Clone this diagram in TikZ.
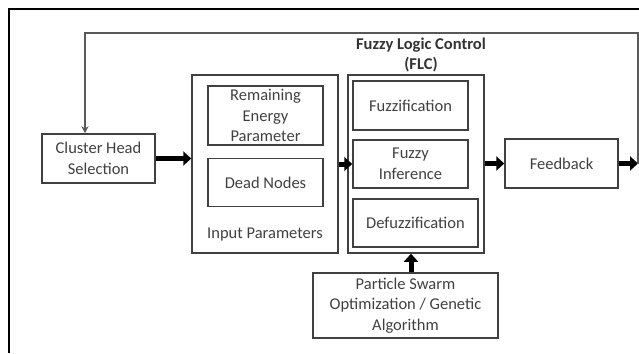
\documentclass[tikz,border=0pt]{standalone}
\usepackage{fontspec}
\setmainfont{Carlito}
\usetikzlibrary{arrows.meta,positioning}
\tikzset{
    blk/.style={draw=black!75,line width=1.5pt,align=center,inner sep=1pt,
        text=black!75,font=\fontsize{16.5}{20.5}\selectfont},
    fat/.style={draw=black,line width=5pt,-{Triangle[length=8pt,width=14pt]}},
    back/.style={draw=black!65,line width=1.3pt,-{Stealth[length=7pt,width=7pt]}}
}

\begin{document}
\begin{tikzpicture}[x=1pt,y=-1pt]
    \useasboundingbox (0,0) rectangle (639,353);
    % page frame
    \draw[line width=2pt] (9,353) -- (9,9) -- (639,9);

    \node[blk,minimum width=113pt,minimum height=49pt] (ch) at (98.5,158.5) {Cluster Head\\Selection};

    % input parameters
    \node[blk,minimum width=146pt,minimum height=178pt] (ip) at (265,164) {};
    \node[blk,minimum width=115pt,minimum height=59pt] (rep) at (265.5,115.5) {Remaining\\Energy\\Parameter};
    \node[blk,minimum width=115pt,minimum height=48pt] (dn) [below=12pt of rep] {Dead Nodes};
    \node[text=black!75,font=\fontsize{16.5}{20.5}\selectfont] (iplabel) at (265,235) {Input Parameters};

    % fuzzy logic control
    \node[blk,minimum width=136pt,minimum height=178pt] (flc) at (416,164) {};
    \node[text=black!80,font=\bfseries\fontsize{16.5}{20}\selectfont,align=center] (flctitle) at (421,55) {Fuzzy Logic Control\\(FLC)};
    \node[blk,minimum width=115pt,minimum height=49pt] (fz) at (410.5,105.5) {Fuzzification};
    \node[blk,minimum width=115pt,minimum height=48pt] (fi) at (410.5,164) {Fuzzy\\Inference};
    \node[blk,minimum width=125pt,minimum height=48pt] (dfz) at (415.5,223) {Defuzzification};

    \node[blk,minimum width=113pt,minimum height=49pt] (fb) at (561.5,163.5) {Feedback};
    \node[blk,minimum width=185pt,minimum height=65pt] (pso) at (405.5,305.5) {Particle Swarm\\Optimization / Genetic\\Algorithm};

    \coordinate (fbout) at (638,163.5);
    \coordinate (loopl) at (85,33);

    \draw[fat] (ch.east) -- (ch.east -| ip.west);
    \draw[fat] (ip.east |- fi) -- (fi.west);
    \draw[fat] (flc.east |- fb) -- (fb.west);
    \draw[fat] (fb.east) -- (fbout);
    \draw[fat] (pso.north -| 411,0) -- (411,0 |- flc.south);
    \draw[back] (fbout) |- (loopl) -- (loopl |- ch.north);
\end{tikzpicture}
\end{document}
